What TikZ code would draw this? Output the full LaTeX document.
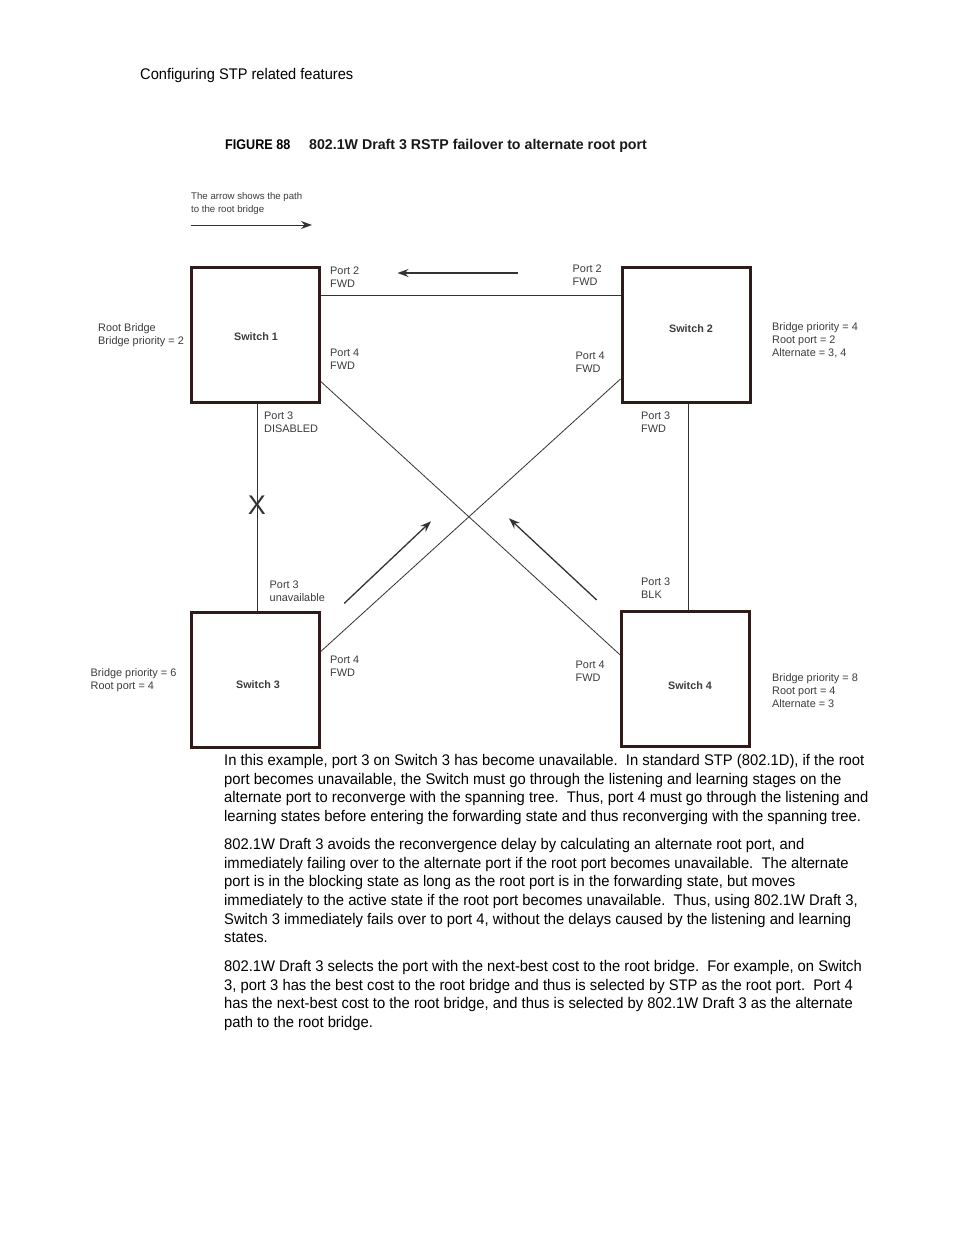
\documentclass[tikz,border=0pt]{standalone}
\usepackage{fontspec}
\usetikzlibrary{arrows.meta}
\setmainfont{Liberation Sans}
\newfontfamily\bodyfont[FakeStretch=0.96]{Liberation Sans}
\newfontfamily\headfont[FakeStretch=0.95]{Liberation Sans}
\newfontfamily\figfont[FakeStretch=0.9]{Liberation Sans}
\definecolor{boxcol}{HTML}{2E1C1A}
\definecolor{linecol}{HTML}{333333}
\definecolor{lblcol}{HTML}{3C3C3C}
\tikzset{
  switchbox/.style={draw=boxcol, line width=3pt, minimum width=128pt, minimum height=135pt, inner sep=0pt},
  swlabel/.style={font=\fontsize{10.8}{13}\selectfont\bfseries, text=lblcol, inner sep=0pt},
  lbl/.style={font=\fontsize{10.9}{13}\selectfont, text=lblcol, anchor=north west, inner sep=0pt, align=left},
  link/.style={draw=linecol, line width=0.8pt},
  patharrow/.style={draw=linecol, line width=1.3pt, -{Stealth[length=11pt,width=8pt]}},
  body/.style={font=\bodyfont\fontsize{15.4}{18.55}\selectfont, anchor=north west, inner sep=0pt, align=left, text=black}
}
\begin{document}
\begin{tikzpicture}[x=1pt,y=-1pt]
\fill[white] (0,0) rectangle (954,1235);
\useasboundingbox (0,0) rectangle (954,1235);

% header and caption
\node[font=\headfont\fontsize{15.4}{18}\selectfont, anchor=base west, inner sep=0pt] (header) at (140,79.5) {Configuring STP related features};
\node[font=\figfont\fontsize{14}{16}\selectfont\bfseries, anchor=base west, inner sep=0pt] (fignum) at (225,149) {FIGURE 88};
\node[font=\fontsize{14.2}{16}\selectfont\bfseries, anchor=base west, inner sep=0pt, text=black!90] (caption) at (309,149) {802.1W Draft 3 RSTP failover to alternate root port};

% legend
\node[lbl, font=\fontsize{9.65}{13}\selectfont] (legend) at (191,192) {The arrow shows the path\\to the root bridge};
\coordinate (lgA) at (191,225);
\coordinate (lgB) at (312,225);
\draw[patharrow, line width=1pt] (lgA) -- (lgB);

% switches
\node[switchbox] (s1) at (255.25,335) {};
\node[switchbox] (s2) at (686,335) {};
\node[switchbox] (s3) at (255.25,680) {};
\node[switchbox] (s4) at (685.75,678.75) {};
\node[swlabel] (s1l) at (256,337) {Switch 1};
\node[swlabel] (s2l) at (691,329) {Switch 2};
\node[swlabel] (s3l) at (258,685) {Switch 3};
\node[swlabel] (s4l) at (690,686) {Switch 4};

% links
\draw[link] (s1.east |- 0,295.5) -- (s2.west |- 0,295.5);
\draw[link] (s1.south -| 257,0) -- (s3.north -| 257,0);
\draw[link] (s2.south -| 688,0) -- (s4.north -| 688,0);
\draw[link] (s1.east |- 0,381.5) -- (s4.west |- 0,655);
\draw[link] (s3.east |- 0,651.5) -- (s2.west |- 0,379);

% failure mark
\node[font=\fontsize{27}{30}\selectfont, text=linecol, inner sep=0pt] (xmark) at (257,505) {X};

% path arrows
\coordinate (a1s) at (517.5,273);
\coordinate (a1e) at (397.5,273);
\coordinate (a2s) at (344.3,603.3);
\coordinate (a2e) at (431,521.3);
\coordinate (a3s) at (596.7,600);
\coordinate (a3e) at (509,518.3);
\draw[patharrow] (a1s) -- (a1e);
\draw[patharrow] (a2s) -- (a2e);
\draw[patharrow] (a3s) -- (a3e);

% port labels
\node[lbl] (p2a) at (330,267) {Port 2\\FWD};
\node[lbl] (p2b) at (572.5,265) {Port 2\\FWD};
\node[lbl] (p4a) at (330,349) {Port 4\\FWD};
\node[lbl] (p4b) at (575.5,352) {Port 4\\FWD};
\node[lbl] (p3a) at (264,412) {Port 3\\DISABLED};
\node[lbl] (p3b) at (641,412) {Port 3\\FWD};
\node[lbl] (p3c) at (269.5,581) {Port 3\\unavailable};
\node[lbl] (p3d) at (641,578) {Port 3\\BLK};
\node[lbl] (p4c) at (330,656) {Port 4\\FWD};
\node[lbl] (p4d) at (575.5,661) {Port 4\\FWD};

% bridge info
\node[lbl] (info1) at (98,323) {Root Bridge\\Bridge priority = 2};
\node[lbl] (info2) at (772,322) {Bridge priority = 4\\Root port = 2\\Alternate = 3, 4};
\node[lbl] (info3) at (90.5,668) {Bridge priority = 6\\Root port = 4};
\node[lbl] (info4) at (772,673) {Bridge priority = 8\\Root port = 4\\Alternate = 3};

% body text
\node[body] (para1) at (224,754.5) {In this example, port 3 on Switch 3 has become unavailable.\ \ In standard STP (802.1D), if the root\\
port becomes unavailable, the Switch must go through the listening and learning stages on the\\
alternate port to reconverge with the spanning tree.\ \ Thus, port 4 must go through the listening and\\
learning states before entering the forwarding state and thus reconverging with the spanning tree.};
\node[body] (para2) at (224,838.5) {802.1W Draft 3 avoids the reconvergence delay by calculating an alternate root port, and\\
immediately failing over to the alternate port if the root port becomes unavailable.\ \ The alternate\\
port is in the blocking state as long as the root port is in the forwarding state, but moves\\
immediately to the active state if the root port becomes unavailable.\ \ Thus, using 802.1W Draft 3,\\
Switch 3 immediately fails over to port 4, without the delays caused by the listening and learning\\
states.};
\node[body] (para3) at (224,960.5) {802.1W Draft 3 selects the port with the next-best cost to the root bridge.\ \ For example, on Switch\\
3, port 3 has the best cost to the root bridge and thus is selected by STP as the root port.\ \ Port 4\\
has the next-best cost to the root bridge, and thus is selected by 802.1W Draft 3 as the alternate\\
path to the root bridge.};
\end{tikzpicture}
\end{document}
